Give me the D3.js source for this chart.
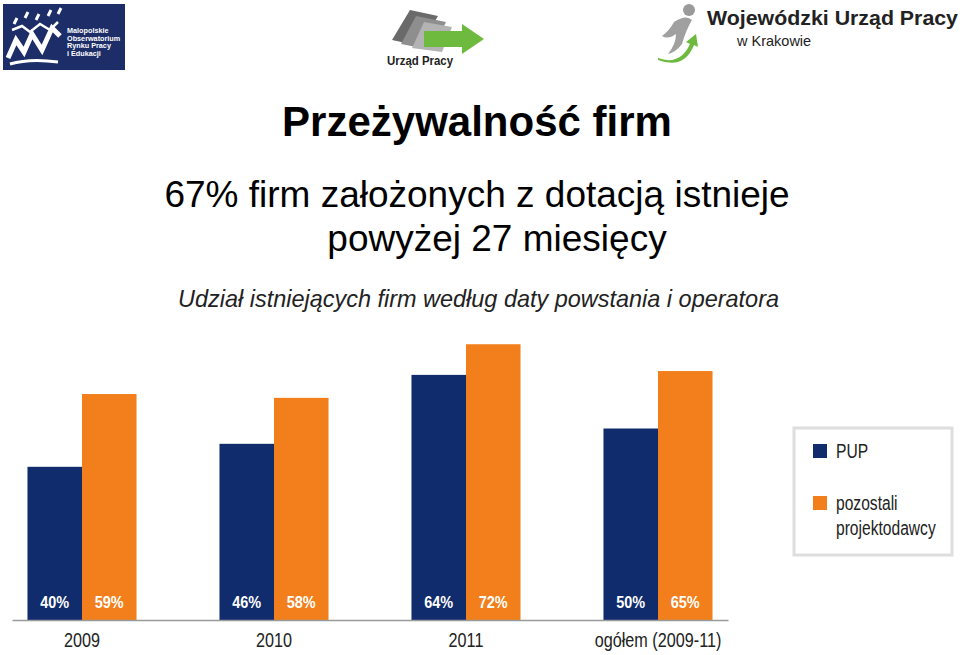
<!DOCTYPE html>
<html><head><meta charset="utf-8">
<script src="https://cdn.jsdelivr.net/npm/d3@7"></script>
<style>
html,body{margin:0;padding:0;background:#fff;}
svg{display:block;}
</style></head>
<body>
<svg id="chart" width="960" height="655"></svg>
<script>
const categories = ["2009", "2010", "2011", "ogółem (2009-11)"];
const seriesNames = ["PUP", "pozostali projektodawcy"];
const pupValues = [40, 46, 64, 50];
const otherValues = [59, 58, 72, 65];
const colors = ["#102c6c", "#f27f1c"];

const svg = d3.select("#chart");
const sans = "'Liberation Sans', Arial, sans-serif";

function condense(sel, factor) {
  sel.each(function () {
    const w = this.getComputedTextLength();
    d3.select(this).attr("textLength", w * factor).attr("lengthAdjust", "spacingAndGlyphs");
  });
}

// ---------- Logos ----------
const lg = svg.append("g");
lg.append("rect").attr("x", 3).attr("y", 4).attr("width", 122).attr("height", 66).attr("fill", "#1c2d68");
lg.append("path").attr("d", "M8,58 L16,40 L24,52 L32,34 L42,50 L52,28 L60,36")
  .attr("fill", "none").attr("stroke", "#fff").attr("stroke-width", 5).attr("stroke-linejoin", "miter");
lg.append("path").attr("d", "M10,64 Q30,58 58,62").attr("fill", "none").attr("stroke", "#fff").attr("stroke-width", 3);
[[14,24],[25,18],[36,20],[48,16],[58,14]].forEach(([px,py]) => {
  lg.append("path").attr("d", `M${px},${py} l3,-6`).attr("stroke", "#fff").attr("stroke-width", 3);
});
lg.append("path").attr("d", "M12,30 L22,26 L30,32 L40,24 L50,30 L58,22").attr("fill","none").attr("stroke","#fff").attr("stroke-width",2.5);
["Malopolskie", "Obserwatorium", "Rynku Pracy", "i Edukacji"].forEach((t, i) => {
  const tx = lg.append("text").attr("x", 67).attr("y", 33 + i * 7.6).text(t)
    .attr("fill", "#fff").attr("font-family", sans).attr("font-weight", "bold").attr("font-size", 7.8);
  condense(tx, 0.93);
});

const mg = svg.append("g");
mg.append("path").attr("d", "M392,40 L410,10 L438,16 L420,46 Z").attr("fill", "#6a6a6a");
mg.append("path").attr("d", "M401,44 L416,16 L446,22 L432,50 Z").attr("fill", "#8e8e8e");
mg.append("path").attr("d", "M412,48 L424,22 L452,27 L442,52 Z").attr("fill", "#b3b3b3");
mg.append("path").attr("d", "M424,31 L462,31 L462,24 L484,39 L462,54 L462,47 L424,47 Z").attr("fill", "#6dba3f");
mg.append("text").attr("x", 387).attr("y", 65).text("Urząd Pracy")
  .attr("fill", "#222").attr("font-family", sans).attr("font-weight", "bold").attr("font-size", 12.5)
  .attr("textLength", 66).attr("lengthAdjust", "spacingAndGlyphs");

const rg = svg.append("g");
rg.append("circle").attr("cx", 689).attr("cy", 10).attr("r", 6).attr("fill", "#9a9a9a");
rg.append("path").attr("d", "M674,22 Q686,14 692,20 Q686,30 682,44 Q676,52 668,54 Q676,44 676,34 Q668,40 662,36 Q670,30 674,22 Z").attr("fill", "#a0a0a0");
rg.append("path").attr("d", "M658,58 Q680,66 690,44 L686,42 L696,34 L698,47 L694,45 Q684,70 658,60 Z").attr("fill", "#6dba3f");
rg.append("text").attr("x", 707).attr("y", 25).text("Wojewódzki Urząd Pracy")
  .attr("fill", "#222").attr("font-family", sans).attr("font-weight", "bold").attr("font-size", 20)
  .attr("textLength", 251).attr("lengthAdjust", "spacingAndGlyphs");
rg.append("text").attr("x", 737).attr("y", 46).text("w Krakowie")
  .attr("fill", "#222").attr("font-family", sans).attr("font-size", 14.5);

// ---------- Titles ----------
svg.append("text").attr("x", 477).attr("y", 136).attr("text-anchor", "middle")
  .text("Przeżywalność firm").attr("font-family", sans).attr("font-weight", "bold")
  .attr("font-size", 42).attr("fill", "#000");
svg.append("text").attr("x", 477).attr("y", 207).attr("text-anchor", "middle")
  .text("67% firm założonych z dotacją istnieje").attr("font-family", sans)
  .attr("font-size", 37).attr("fill", "#000");
svg.append("text").attr("x", 497).attr("y", 251).attr("text-anchor", "middle")
  .text("powyżej 27 miesięcy").attr("font-family", sans)
  .attr("font-size", 37).attr("fill", "#000");
svg.append("text").attr("x", 178).attr("y", 307)
  .text("Udział istniejących firm według daty powstania i operatora")
  .attr("font-family", sans).attr("font-style", "italic").attr("font-size", 24)
  .attr("fill", "#222").attr("textLength", 601).attr("lengthAdjust", "spacingAndGlyphs");

// ---------- Chart ----------
const baseY = 620;
const x = d3.scaleBand().domain(categories).range([12, 728]).paddingInner(0.432).paddingOuter(0.0806);
const xs = d3.scaleBand().domain([0, 1]).range([0, x.bandwidth()]);
const y = d3.scaleLinear().domain([0, 100]).range([baseY, 237]);

const data = categories.map((c, i) => ({ cat: c, vals: [pupValues[i], otherValues[i]] }));

const groups = svg.append("g").selectAll("g").data(data).join("g")
  .attr("transform", d => `translate(${x(d.cat)},0)`);
groups.selectAll("rect").data(d => d.vals.map((v, k) => ({ v, k }))).join("rect")
  .attr("x", d => xs(d.k)).attr("width", xs.bandwidth())
  .attr("y", d => y(d.v)).attr("height", d => baseY - y(d.v))
  .attr("fill", d => colors[d.k]);
const valLabels = groups.selectAll("text").data(d => d.vals.map((v, k) => ({ v, k }))).join("text")
  .attr("x", d => xs(d.k) + xs.bandwidth() / 2).attr("y", baseY - 12)
  .attr("text-anchor", "middle").text(d => d.v + "%")
  .attr("font-family", sans).attr("font-weight", "bold").attr("font-size", 17)
  .attr("fill", "#fff");
condense(valLabels, 0.85);

const axis = svg.append("g").attr("transform", `translate(0,${baseY})`)
  .call(d3.axisBottom(x).tickSize(0).tickPadding(13));
axis.select(".domain").attr("stroke", "#9a9a9a").attr("stroke-width", 1.5);
axis.selectAll("text").attr("font-family", sans).attr("font-size", 20).attr("fill", "#222");
condense(axis.selectAll("text"), 0.81);

// ---------- Legend ----------
const leg = svg.append("g");
leg.append("rect").attr("x", 794).attr("y", 428).attr("width", 158).attr("height", 127)
  .attr("fill", "#fff").attr("stroke", "#dedede").attr("stroke-width", 3);
const legItems = [
  { lines: ["PUP"], sy: 444 },
  { lines: ["pozostali", "projektodawcy"], sy: 496 }
];
legItems.forEach((it, i) => {
  leg.append("rect").attr("x", 813).attr("y", it.sy).attr("width", 14).attr("height", 14).attr("fill", colors[i]);
  it.lines.forEach((t, j) => {
    const tx = leg.append("text").attr("x", 836).attr("y", it.sy + 14 + j * 25).text(t)
      .attr("font-family", sans).attr("font-size", 19.5).attr("fill", "#222");
    condense(tx, 0.8);
  });
});
</script>
</body></html>
